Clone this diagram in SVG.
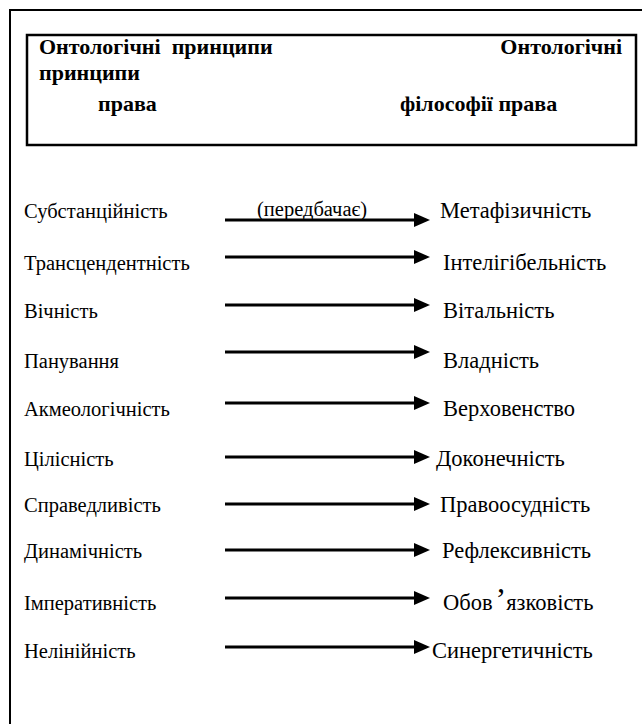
<svg xmlns="http://www.w3.org/2000/svg" width="642" height="724" viewBox="0 0 642 724">
<style>
.t{font-family:'Liberation Serif','Times New Roman','DejaVu Serif',serif;font-size:20.5px;fill:#000}
.r{font-family:'Liberation Serif','Times New Roman','DejaVu Serif',serif;font-size:22.5px;fill:#000}
.h{font-family:'Liberation Serif','Times New Roman','DejaVu Serif',serif;font-size:22px;font-weight:bold;fill:#000}
.a{stroke:#000;stroke-width:3;fill:none;marker-end:url(#ah)}
</style>
<defs>
<marker id="ah" markerUnits="userSpaceOnUse" markerWidth="16" markerHeight="14" refX="1" refY="7" orient="auto">
<path d="M0,0 L16,7 L0,14 Z" fill="#000"/>
</marker>
</defs>
<rect width="642" height="724" fill="#fff"/>
<path d="M10,724 V10 H642" fill="none" stroke="#000" stroke-width="2"/>
<g id="header">
<rect x="27" y="35" width="609" height="110" fill="none" stroke="#000" stroke-width="2.5"/>
<text class="h" x="39" y="54" xml:space="preserve">Онтологічні  принципи</text>
<text class="h" x="622" y="54" text-anchor="end">Онтологічні</text>
<text class="h" x="39" y="80">принципи</text>
<text class="h" x="98" y="111">права</text>
<text class="h" x="400" y="111">філософії права</text>
</g>
<g id="left">
<text class="t" x="24" y="218">Субстанційність</text>
<text class="t" x="24" y="270">Трансцендентність</text>
<text class="t" x="24" y="318">Вічність</text>
<text class="t" x="24" y="368">Панування</text>
<text class="t" x="24" y="416">Акмеологічність</text>
<text class="t" x="24" y="466">Цілісність</text>
<text class="t" x="24" y="512">Справедливість</text>
<text class="t" x="24" y="558">Динамічність</text>
<text class="t" x="24" y="610">Імперативність</text>
<text class="t" x="24" y="658">Нелінійність</text>
</g>
<g id="right">
<text class="r" x="440" y="218">Метафізичність</text>
<text class="r" x="443" y="270">Інтелігібельність</text>
<text class="r" x="443" y="318">Вітальність</text>
<text class="r" x="443" y="368">Владність</text>
<text class="r" x="443" y="416">Верховенство</text>
<text class="r" x="436" y="466">Доконечність</text>
<text class="r" x="440" y="512">Правоосудність</text>
<text class="r" x="442" y="558">Рефлексивність</text>
<text class="r" x="443" y="610">Обов<tspan font-size="32" dx="3">’</tspan>язковість</text>
<text class="r" x="432" y="658">Синергетичність</text>
</g>
<g id="connectors">
<text class="t" x="257" y="216">(передбачає)</text>
<line class="a" x1="225" y1="220" x2="415" y2="220"/>
<line class="a" x1="225" y1="257" x2="415" y2="257"/>
<line class="a" x1="225" y1="305" x2="415" y2="305"/>
<line class="a" x1="225" y1="352" x2="415" y2="352"/>
<line class="a" x1="225" y1="403" x2="415" y2="403"/>
<line class="a" x1="225" y1="457" x2="415" y2="457"/>
<line class="a" x1="225" y1="504" x2="415" y2="504"/>
<line class="a" x1="225" y1="550" x2="415" y2="550"/>
<line class="a" x1="225" y1="598" x2="415" y2="598"/>
<line class="a" x1="225" y1="647" x2="415" y2="647"/>
</g>
</svg>
